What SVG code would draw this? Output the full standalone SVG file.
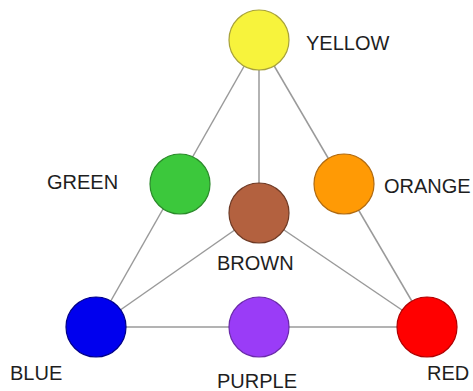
<svg xmlns="http://www.w3.org/2000/svg" width="473" height="391" viewBox="0 0 473 391">
<style>
.edge{stroke:#9a9a9a;stroke-width:1.5;fill:none}
.node circle{stroke-width:1.2}
.lbl{font-family:"Liberation Sans",Arial,sans-serif;font-size:20px;fill:#1e1e1e}
</style>
<rect width="473" height="391" fill="#fff"/>
<g id="connectors">
<line class="edge" x1="259" y1="40" x2="96" y2="327"/>
<line class="edge" x1="259" y1="40" x2="427" y2="327"/>
<line class="edge" x1="259" y1="40" x2="259" y2="213"/>
<line class="edge" x1="96" y1="327" x2="427" y2="327"/>
<line class="edge" x1="259" y1="213" x2="96" y2="327"/>
<line class="edge" x1="259" y1="213" x2="427" y2="327"/>
</g>
<g id="yellow" class="node"><circle cx="259" cy="40" r="30" fill="#f7f33c" stroke="#a8a23a"/><text class="lbl" x="306" y="50">YELLOW</text></g>
<g id="green" class="node"><circle cx="180" cy="184" r="30" fill="#3cc83c" stroke="#2a8a2a"/><text class="lbl" x="47" y="189">GREEN</text></g>
<g id="orange" class="node"><circle cx="344" cy="184" r="30" fill="#ff9a05" stroke="#b06a10"/><text class="lbl" x="384" y="193">ORANGE</text></g>
<g id="brown" class="node"><circle cx="259" cy="213" r="30" fill="#b3613f" stroke="#6e3a25"/><text class="lbl" x="217" y="270">BROWN</text></g>
<g id="blue" class="node"><circle cx="96" cy="327" r="30" fill="#0000ee" stroke="#000088"/><text class="lbl" x="10" y="380">BLUE</text></g>
<g id="purple" class="node"><circle cx="259" cy="327" r="30" fill="#9a3cf7" stroke="#6a2aaa"/><text class="lbl" x="217" y="388">PURPLE</text></g>
<g id="red" class="node"><circle cx="427" cy="327" r="30" fill="#ff0000" stroke="#b00000"/><text class="lbl" x="427" y="380">RED</text></g>
</svg>
